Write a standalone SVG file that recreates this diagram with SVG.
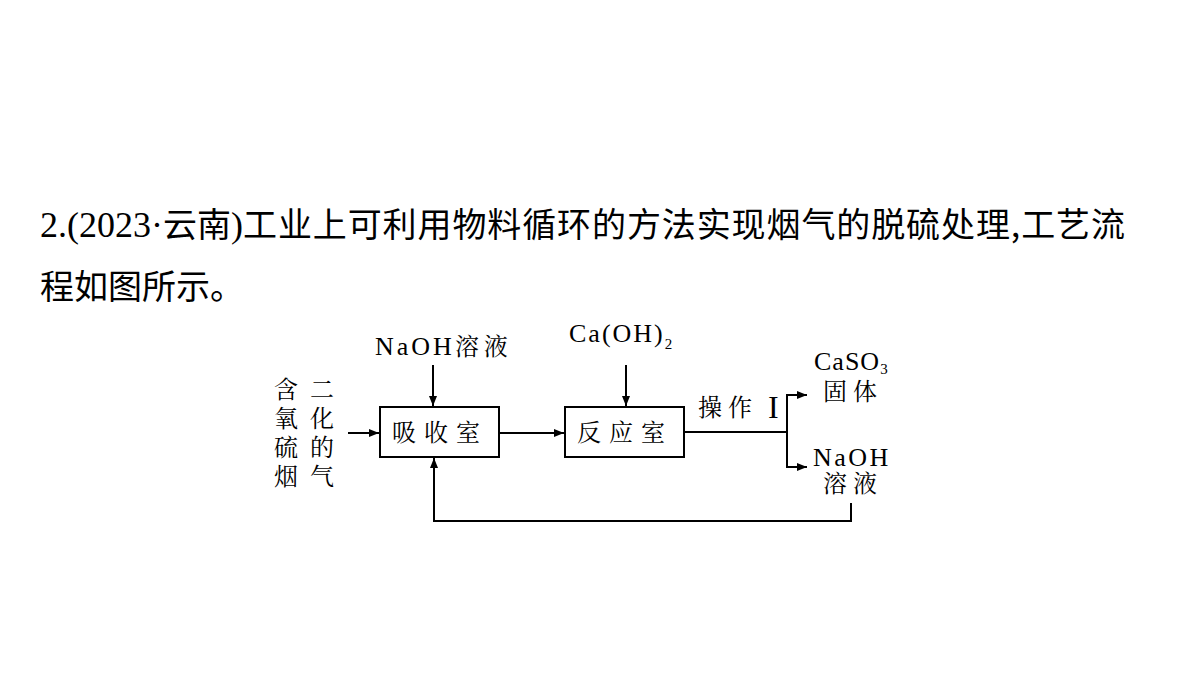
<svg xmlns="http://www.w3.org/2000/svg" width="1200" height="675" viewBox="0 0 1200 675">
<style>
.title{font-family:"Noto Sans CJK SC","Liberation Sans",sans-serif;font-size:34px;fill:#000}
.tser{font-family:"Liberation Serif",serif;font-size:36px}
.lbl{font-family:"Liberation Serif","Noto Serif CJK SC","Noto Sans CJK SC",serif;font-size:24px;fill:#000}
.lat{font-size:26px}
.sub{font-size:15px}
.box{fill:#fff;stroke:#000;stroke-width:2}
.ln{fill:none;stroke:#000;stroke-width:2}
</style>
<defs>
<marker id="ah" viewBox="0 0 10 8" refX="10" refY="4" markerWidth="10" markerHeight="8" markerUnits="userSpaceOnUse" orient="auto">
<path d="M0,0 L10,4 L0,8 Z" fill="#000"/>
</marker>
</defs>
<rect width="1200" height="675" fill="#fff"/>
<text class="title" x="40" y="237"><tspan class="tser">2.(2023·</tspan><tspan>云南</tspan><tspan class="tser">)</tspan><tspan letter-spacing="0.9">工业上可利用物料循环的方法实现烟气的脱硫处理,工艺流</tspan></text>
<text class="title" x="40" y="299">程如图所示。</text>

<g id="feed-gas">
<text class="lbl" x="286" y="398" text-anchor="middle">含</text>
<text class="lbl" x="322" y="398" text-anchor="middle">二</text>
<text class="lbl" x="286" y="427" text-anchor="middle">氧</text>
<text class="lbl" x="322" y="427" text-anchor="middle">化</text>
<text class="lbl" x="286" y="456" text-anchor="middle">硫</text>
<text class="lbl" x="322" y="456" text-anchor="middle">的</text>
<text class="lbl" x="286" y="485" text-anchor="middle">烟</text>
<text class="lbl" x="322" y="485" text-anchor="middle">气</text>
</g>
<g id="naoh-in">
<text class="lbl" x="375" y="355"><tspan class="lat" letter-spacing="3">NaOH</tspan><tspan letter-spacing="5">溶液</tspan></text>
</g>
<g id="absorber">
<rect class="box" x="380" y="407" width="119" height="50"/>
<text class="lbl" x="440" y="441" text-anchor="middle" letter-spacing="8">吸收室</text>
</g>
<g id="caoh2-in">
<text class="lbl lat" x="569" y="342" letter-spacing="2">Ca(OH)<tspan class="sub" dy="7" letter-spacing="0">2</tspan></text>
</g>
<g id="reactor">
<rect class="box" x="565" y="407" width="119" height="50"/>
<text class="lbl" x="625" y="441" text-anchor="middle" letter-spacing="8">反应室</text>
</g>
<g id="op1">
<text class="lbl" x="698" y="416" letter-spacing="6">操作</text>
<text class="lbl" x="768" y="418" style="font-size:32px">I</text>
</g>
<g id="caso3">
<text class="lbl lat" x="814" y="370" letter-spacing="1">CaSO<tspan class="sub" dy="4">3</tspan></text>
<text class="lbl" x="823" y="400" letter-spacing="6">固体</text>
</g>
<g id="naoh-out">
<text class="lbl lat" x="813" y="466" letter-spacing="2.5">NaOH</text>
<text class="lbl" x="823" y="492" letter-spacing="6">溶液</text>
</g>
<g id="connectors">
<line class="ln" x1="348" y1="433" x2="379" y2="433" marker-end="url(#ah)"/>
<line class="ln" x1="433" y1="365" x2="433" y2="406" marker-end="url(#ah)"/>
<line class="ln" x1="499" y1="433" x2="564" y2="433" marker-end="url(#ah)"/>
<line class="ln" x1="626" y1="365" x2="626" y2="406" marker-end="url(#ah)"/>
<line class="ln" x1="684" y1="432" x2="787" y2="432"/>
<line class="ln" x1="787" y1="394" x2="787" y2="468"/>
<line class="ln" x1="786" y1="395" x2="807" y2="395" marker-end="url(#ah)"/>
<line class="ln" x1="786" y1="467" x2="807" y2="467" marker-end="url(#ah)"/>
<polyline class="ln" points="851,503 851,521 434,521 434,458" marker-end="url(#ah)"/>
</g>
</svg>
